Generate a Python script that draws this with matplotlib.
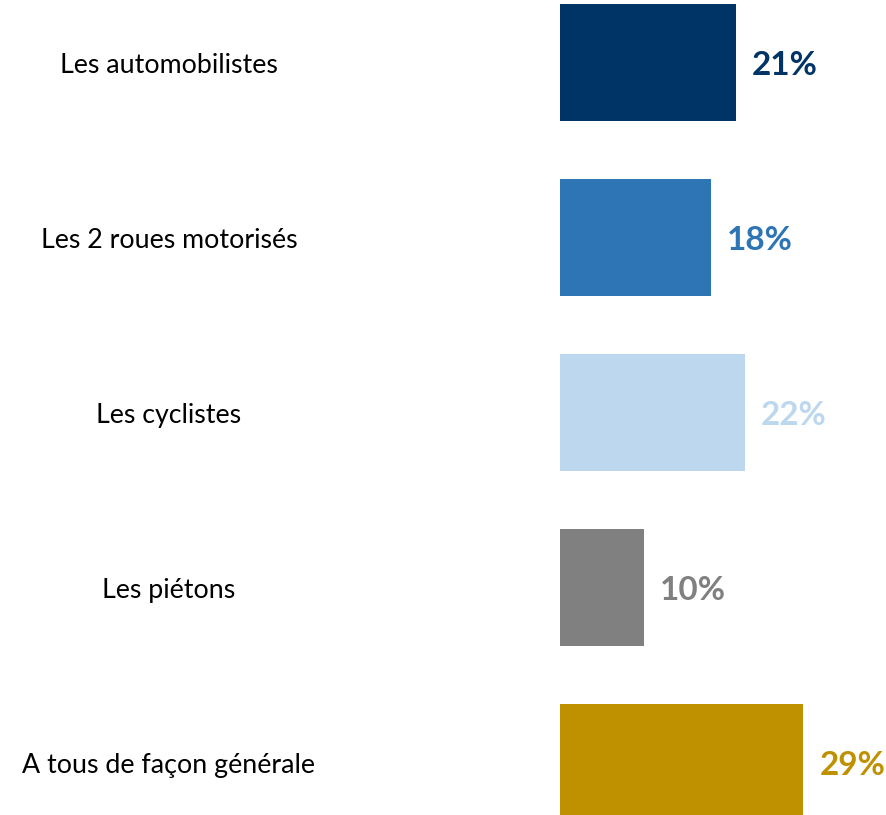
import matplotlib
matplotlib.use("Agg")
import matplotlib.pyplot as plt
import matplotlib.transforms as mtransforms

categories = ["Les automobilistes", "Les 2 roues motorisés", "Les cyclistes",
              "Les piétons", "A tous de façon générale"]
values = [21, 18, 22, 10, 29]
colors = ["#003366", "#2E75B6", "#BDD7EE", "#808080", "#BF9000"]

W, H = 887, 815
fig = plt.figure(figsize=(W / 100, H / 100), dpi=100)
ax = fig.add_axes([560 / W, 0, 1 - 560 / W, 1])

y = list(range(len(categories)))
ax.barh(y, values, height=0.669, color=colors)
ax.set_xlim(0, (W - 560) / 8.39)
ax.set_ylim((H - 62.5) / 175, -62.5 / 175)
ax.axis("off")

trans = mtransforms.blended_transform_factory(fig.transFigure, ax.transData)
for i, (cat, v, c) in enumerate(zip(categories, values, colors)):
    ax.text(169 / W, i + 0.015, cat, transform=trans, ha="center", va="center",
            fontsize=19.3, family="Lato", color="#000000")
    ax.annotate(f"{v}%", (v, i), xytext=(16, -3), textcoords="offset pixels",
                ha="left", va="center", fontsize=24, fontweight="bold",
                family="Lato", color=c)

fig.savefig("out.png", dpi=100)
